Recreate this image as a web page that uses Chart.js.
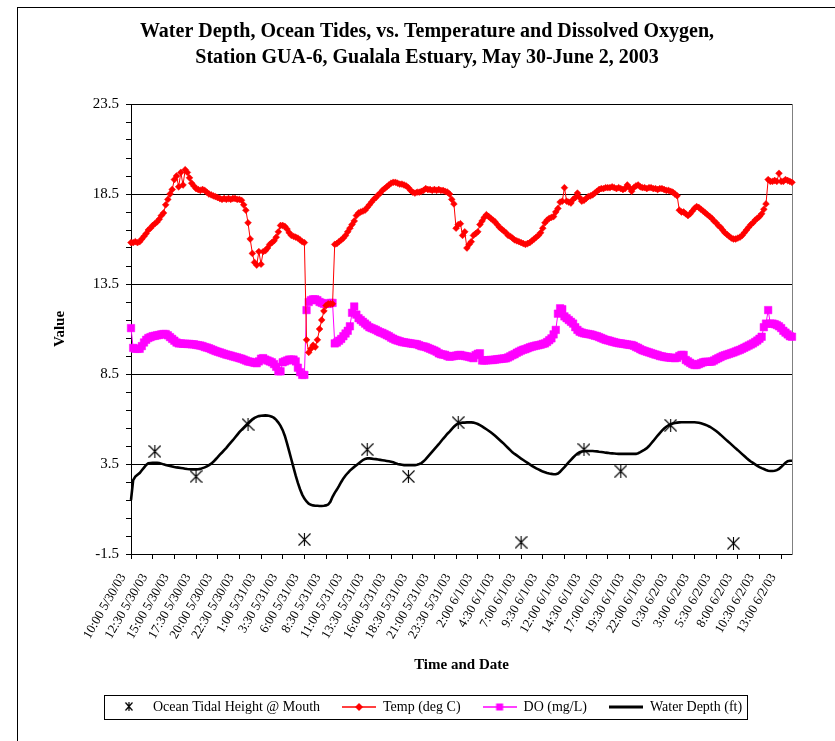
<!DOCTYPE html>
<html><head><meta charset="utf-8">
<script src="https://cdn.jsdelivr.net/npm/chart.js@4.4.1/dist/chart.umd.min.js"></script>
<style>html,body{margin:0;padding:0;background:#fff}#wrap{width:835px;height:741px}</style>
</head><body><div id="wrap"><canvas id="c" width="835" height="741"></canvas></div>
<script>
// ---- data (15-minute readings, index 0 = 10:00 5/30/03) ----
const xTickIndex = [0,10,20,30,40,50,60,70,80,90,100,110,120,130,140,150,160,170,180,190,200,210,220,230,240,250,260,270,280,290,300];
const xTickLabels = ['10:00 5/30/03','12:30 5/30/03','15:00 5/30/03','17:30 5/30/03','20:00 5/30/03','22:30 5/30/03','1:00 5/31/03','3:30 5/31/03','6:00 5/31/03','8:30 5/31/03','11:00 5/31/03','13:30 5/31/03','16:00 5/31/03','18:30 5/31/03','21:00 5/31/03','23:30 5/31/03','2:00 6/1/03','4:30 6/1/03','7:00 6/1/03','9:30 6/1/03','12:00 6/1/03','14:30 6/1/03','17:00 6/1/03','19:30 6/1/03','22:00 6/1/03','0:30 6/2/03','3:00 6/2/03','5:30 6/2/03','8:00 6/2/03','10:30 6/2/03','13:00 6/2/03'];

const tideIndex = [11,30,54,80,109,128,151,180,209,226,249,278];
const tideHeight = [4.2,2.8,5.7,-0.7,4.3,2.8,5.8,-0.85,4.3,3.1,5.65,-0.9];

const temp = [
15.8,15.8,15.85,15.8,15.85,16.0,16.15,16.3,16.5,16.6,
16.75,16.85,16.95,17.1,17.3,17.45,17.9,18.2,18.5,18.75,
19.3,19.5,18.9,19.7,19.0,19.85,19.7,19.4,19.1,18.95,
18.8,18.75,18.7,18.75,18.7,18.6,18.5,18.45,18.4,18.35,
18.3,18.25,18.2,18.25,18.2,18.25,18.2,18.25,18.25,18.2,
18.2,18.15,17.9,17.6,16.9,16.0,15.2,14.7,14.55,15.3,
14.6,15.3,15.35,15.5,15.7,15.8,15.9,16.1,16.4,16.75,
16.75,16.7,16.55,16.35,16.2,16.15,16.1,16.05,15.95,15.85,
15.8,10.4,9.7,9.9,10.1,10.0,10.4,11.0,11.5,12.0,
12.3,12.4,12.4,12.4,15.7,15.75,15.85,15.95,16.05,16.2,
16.4,16.6,16.8,17.0,17.3,17.45,17.5,17.55,17.6,17.75,
17.9,18.05,18.2,18.3,18.45,18.55,18.7,18.8,18.9,19.0,
19.1,19.15,19.15,19.1,19.05,19.05,19.0,18.95,18.85,18.7,
18.6,18.55,18.6,18.6,18.65,18.7,18.8,18.75,18.75,18.7,
18.75,18.7,18.75,18.7,18.7,18.65,18.6,18.5,18.2,17.95,
16.6,16.8,16.85,16.2,16.4,15.5,15.7,15.85,16.2,16.3,
16.4,16.8,17.0,17.2,17.35,17.25,17.15,17.05,16.95,16.8,
16.65,16.55,16.45,16.35,16.2,16.15,16.05,15.95,15.9,15.85,
15.8,15.75,15.7,15.75,15.8,15.9,16.0,16.1,16.2,16.35,
16.6,16.9,17.05,17.15,17.2,17.25,17.5,17.7,18.05,18.1,
18.85,18.1,18.05,18.0,18.2,18.3,18.55,18.3,18.1,18.15,
18.25,18.35,18.4,18.45,18.55,18.65,18.75,18.8,18.8,18.85,
18.85,18.85,18.9,18.85,18.8,18.85,18.8,18.75,18.8,19.0,
18.85,18.65,18.85,18.95,19.0,18.9,18.85,18.85,18.8,18.85,
18.85,18.8,18.8,18.75,18.8,18.8,18.75,18.7,18.7,18.65,
18.6,18.5,18.4,17.6,17.5,17.5,17.4,17.3,17.4,17.55,
17.7,17.8,17.75,17.65,17.55,17.45,17.35,17.25,17.15,17.0,
16.9,16.75,16.65,16.5,16.35,16.25,16.15,16.05,16.0,16.0,
16.05,16.1,16.2,16.35,16.5,16.65,16.8,16.9,17.05,17.15,
17.25,17.4,17.65,17.95,19.3,19.2,19.2,19.25,19.2,19.65,
19.2,19.2,19.3,19.25,19.2,19.15];

const dissolvedOxygen = [
11.05,9.95,9.9,9.9,9.9,10.05,10.25,10.4,10.5,10.55,
10.6,10.62,10.65,10.67,10.7,10.72,10.72,10.65,10.55,10.45,
10.35,10.25,10.2,10.2,10.18,10.18,10.17,10.17,10.15,10.15,
10.12,10.1,10.08,10.05,10.0,9.97,9.93,9.88,9.83,9.78,
9.74,9.7,9.66,9.62,9.58,9.55,9.52,9.48,9.45,9.42,
9.38,9.35,9.3,9.25,9.2,9.18,9.15,9.12,9.1,9.2,
9.35,9.38,9.3,9.25,9.2,9.15,9.05,8.9,8.65,8.65,
9.15,9.2,9.25,9.3,9.3,9.3,9.2,8.85,8.6,8.45,
8.45,12.05,12.5,12.6,12.65,12.65,12.6,12.5,12.45,12.4,
12.4,12.4,12.45,12.45,10.2,10.25,10.35,10.45,10.6,10.75,
10.9,11.15,11.9,12.25,11.8,11.6,11.5,11.4,11.3,11.2,
11.1,11.05,11.0,10.95,10.88,10.82,10.78,10.72,10.66,10.6,
10.52,10.46,10.4,10.36,10.32,10.28,10.26,10.24,10.22,10.2,
10.18,10.17,10.15,10.1,10.05,10.03,10.0,9.95,9.9,9.85,
9.8,9.74,9.65,9.6,9.58,9.56,9.5,9.46,9.48,9.5,
9.52,9.55,9.56,9.52,9.5,9.48,9.45,9.42,9.38,9.55,
9.62,9.65,9.25,9.25,9.26,9.27,9.28,9.28,9.3,9.32,
9.33,9.35,9.36,9.37,9.42,9.48,9.55,9.6,9.68,9.74,
9.8,9.85,9.88,9.93,9.98,10.02,10.05,10.08,10.1,10.13,
10.17,10.2,10.28,10.38,10.48,10.7,10.95,11.85,12.15,12.1,
11.7,11.6,11.5,11.4,11.3,11.1,10.95,10.85,10.8,10.76,
10.74,10.72,10.7,10.67,10.63,10.6,10.55,10.5,10.45,10.4,
10.37,10.34,10.3,10.27,10.24,10.21,10.2,10.18,10.16,10.14,
10.12,10.11,10.07,10.0,9.95,9.88,9.82,9.78,9.74,9.7,
9.66,9.62,9.58,9.55,9.5,9.48,9.45,9.43,9.42,9.4,
9.4,9.38,9.4,9.5,9.56,9.56,9.28,9.2,9.12,9.05,
9.0,9.0,9.05,9.1,9.15,9.18,9.18,9.18,9.19,9.25,
9.32,9.38,9.44,9.5,9.54,9.58,9.62,9.66,9.7,9.75,
9.8,9.84,9.9,9.96,10.02,10.08,10.14,10.2,10.28,10.36,
10.46,10.57,11.1,11.3,12.05,11.3,11.3,11.27,11.22,11.15,
11.05,10.9,10.8,10.7,10.6,10.57];

const waterDepth = [
1.5,2.6,2.8,2.9,3.0,3.15,3.3,3.45,3.54,3.56,
3.57,3.57,3.57,3.55,3.52,3.48,3.45,3.42,3.39,3.36,
3.33,3.31,3.3,3.28,3.26,3.24,3.22,3.21,3.2,3.2,
3.2,3.21,3.23,3.27,3.31,3.37,3.44,3.52,3.62,3.75,
3.88,4.02,4.14,4.27,4.4,4.55,4.69,4.82,4.97,5.12,
5.27,5.4,5.52,5.64,5.76,5.88,5.98,6.06,6.12,6.16,
6.18,6.19,6.2,6.19,6.17,6.13,6.06,5.95,5.8,5.62,
5.38,5.06,4.65,4.2,3.75,3.3,2.85,2.45,2.1,1.8,
1.58,1.42,1.3,1.23,1.2,1.18,1.18,1.17,1.17,1.18,
1.2,1.25,1.4,1.68,1.9,2.08,2.28,2.5,2.7,2.86,
3.0,3.13,3.24,3.34,3.43,3.53,3.63,3.72,3.78,3.81,
3.81,3.8,3.78,3.77,3.75,3.73,3.71,3.69,3.67,3.65,
3.63,3.6,3.55,3.5,3.48,3.46,3.44,3.44,3.44,3.44,
3.44,3.44,3.46,3.5,3.55,3.65,3.77,3.91,4.05,4.19,
4.33,4.46,4.6,4.75,4.9,5.04,5.18,5.3,5.44,5.57,
5.68,5.75,5.78,5.8,5.8,5.81,5.81,5.81,5.8,5.77,
5.72,5.66,5.59,5.51,5.43,5.35,5.26,5.17,5.07,4.96,
4.85,4.74,4.63,4.51,4.39,4.27,4.15,4.06,3.98,3.89,
3.8,3.72,3.64,3.56,3.48,3.4,3.33,3.26,3.2,3.14,
3.08,3.04,3.0,2.97,2.95,2.93,2.93,2.97,3.07,3.2,
3.33,3.47,3.6,3.73,3.86,3.98,4.08,4.15,4.19,4.21,
4.22,4.22,4.22,4.22,4.21,4.2,4.18,4.17,4.15,4.13,
4.12,4.1,4.09,4.08,4.07,4.06,4.06,4.06,4.06,4.06,
4.06,4.06,4.06,4.06,4.1,4.16,4.23,4.3,4.38,4.5,
4.64,4.78,4.93,5.08,5.22,5.35,5.47,5.57,5.65,5.71,
5.75,5.78,5.8,5.81,5.82,5.82,5.82,5.82,5.82,5.82,
5.82,5.81,5.79,5.76,5.72,5.68,5.63,5.57,5.5,5.42,
5.33,5.23,5.13,5.02,4.91,4.8,4.7,4.59,4.48,4.37,
4.27,4.16,4.05,3.94,3.83,3.73,3.64,3.56,3.48,3.4,
3.33,3.27,3.22,3.17,3.13,3.11,3.11,3.12,3.16,3.23,
3.33,3.45,3.57,3.66,3.68,3.68];

const seriesNames = ['Ocean Tidal Height @ Mouth','Temp (deg C)','DO (mg/L)','Water Depth (ft)'];

// ---- marker / legend icons ----
function asterisk(w, h, lw) {
  const c = document.createElement('canvas'); c.width = w; c.height = h;
  const g = c.getContext('2d'); g.strokeStyle = '#000'; g.lineWidth = lw;
  g.beginPath();
  g.moveTo(0.5, 0.5); g.lineTo(w - 0.5, h - 0.5);
  g.moveTo(w - 0.5, 0.5); g.lineTo(0.5, h - 0.5);
  g.moveTo(w / 2, 0); g.lineTo(w / 2, h);
  g.stroke(); return c;
}
function swatch(color, lw, marker) {
  const c = document.createElement('canvas'); c.width = 34; c.height = 14;
  const g = c.getContext('2d');
  g.strokeStyle = color; g.fillStyle = color; g.lineWidth = lw;
  g.beginPath(); g.moveTo(0, 7); g.lineTo(34, 7); g.stroke();
  if (marker === 'diamond') { g.beginPath(); g.moveTo(17, 3); g.lineTo(21, 7); g.lineTo(17, 11); g.lineTo(13, 7); g.closePath(); g.fill(); }
  if (marker === 'square') { g.fillRect(13.5, 3.5, 7, 7); }
  return c;
}
const tideMarker = asterisk(13, 13, 1.1);
const legendIcons = [
  (() => { const c = document.createElement('canvas'); c.width = 34; c.height = 14; c.getContext('2d').drawImage(asterisk(8, 9, 1.2), 13, 2); return c; })(),
  swatch('#FF0000', 1.5, 'diamond'),
  swatch('#FF00FF', 1.5, 'square'),
  swatch('#000000', 3, null)
];

const pts = arr => arr.map((v, i) => ({x: i, y: v}));
const SERIF = "'Liberation Serif','Times New Roman',serif";

const framePlugin = {
  id: 'frames',
  beforeDraw(chart) {
    const ctx = chart.ctx; ctx.save();
    ctx.fillStyle = '#fff'; ctx.fillRect(0, 0, chart.width, chart.height);
    ctx.strokeStyle = '#000'; ctx.lineWidth = 1;
    ctx.strokeRect(17.5, 7.5, 840, 760);
    ctx.restore();
  },
  afterDraw(chart) {
    const hb = chart.legend && chart.legend.legendHitBoxes;
    if (!hb || !hb.length) return;
    const ctx = chart.ctx; ctx.save();
    const first = hb[0], last = hb[hb.length - 1];
    const cy = first.top + first.height / 2;
    const l = Math.round(first.left - 8), r = Math.round(last.left + last.width + 5);
    ctx.strokeStyle = '#000'; ctx.lineWidth = 1;
    ctx.strokeRect(l + 0.5, Math.round(cy - 12) + 0.5, r - l, 24);
    ctx.restore();
  }
};

new Chart(document.getElementById('c'), {
  type: 'line',
  data: {
    datasets: [
      { label: seriesNames[0], data: tideIndex.map((x, k) => ({x, y: tideHeight[k]})), showLine: false,
        pointStyle: tideMarker, pointRadius: 6, borderColor: '#000', backgroundColor: '#000', clip: false },
      { label: seriesNames[1], data: pts(temp), borderColor: '#FF0000', backgroundColor: '#FF0000', borderWidth: 1,
        pointStyle: 'rectRot', pointRadius: 3.4, pointBorderWidth: 0.5, tension: 0, clip: false },
      { label: seriesNames[2], data: pts(dissolvedOxygen), borderColor: '#FF00FF', backgroundColor: '#FF00FF', borderWidth: 1,
        pointStyle: 'rect', pointRadius: 5.3, pointBorderWidth: 0.5, tension: 0, clip: false },
      { label: seriesNames[3], data: pts(waterDepth), borderColor: '#000', backgroundColor: '#000', borderWidth: 2.6,
        pointRadius: 0, tension: 0, clip: false }
    ]
  },
  options: {
    responsive: false, animation: false, devicePixelRatio: 1,
    layout: { padding: { left: 20, right: 1, top: 0, bottom: 17 } },
    plugins: {
      tooltip: { enabled: false },
      title: {
        display: true,
        text: ['Water Depth, Ocean Tides, vs. Temperature and Dissolved Oxygen,', 'Station GUA-6, Gualala Estuary, May 30-June 2, 2003'],
        color: '#000', font: { family: SERIF, size: 20, weight: 'bold', lineHeight: '26px' },
        padding: { top: 19, bottom: 33 }
      },
      legend: {
        position: 'bottom',
        labels: {
          usePointStyle: true, pointStyleWidth: 34, padding: 22, color: '#000',
          font: { family: SERIF, size: 14 },
          generateLabels(chart) {
            const items = Chart.defaults.plugins.legend.labels.generateLabels(chart);
            items.sort((a, b) => a.datasetIndex - b.datasetIndex);
            items.forEach(it => { it.pointStyle = legendIcons[it.datasetIndex]; it.fontColor = '#000'; });
            return items;
          }
        }
      }
    },
    scales: {
      x: {
        type: 'linear', min: 0, max: 305,
        afterBuildTicks(scale) { scale.ticks = xTickIndex.map(v => ({value: v})); },
        afterFit(scale) { scale.height = 124; },
        ticks: {
          autoSkip: false, minRotation: 60, maxRotation: 60, padding: 12, labelOffset: -8, color: '#000',
          font: { family: SERIF, size: 13 },
          callback(value) { const k = xTickIndex.indexOf(value); return k >= 0 ? xTickLabels[k] : ''; }
        },
        grid: { drawOnChartArea: false, drawTicks: true, tickLength: 5, color: '#000', tickColor: '#000' },
        border: { color: '#000', width: 1 },
        title: { display: true, text: 'Time and Date', color: '#000', font: { family: SERIF, size: 15, weight: 'bold' }, padding: { top: 4, bottom: 4 } }
      },
      y: {
        min: -1.5, max: 23.5,
        afterFit(scale) { scale.width = 111; },
        ticks: {
          autoSkip: false, stepSize: 1, padding: 7, color: '#000', font: { family: SERIF, size: 15 },
          callback(v) { return Math.round((v + 1.5) * 10) % 50 === 0 ? v.toFixed(1) : ''; }
        },
        grid: {
          tickLength: 5, tickColor: '#000', lineWidth: 1,
          color(ctx) { const v = ctx.tick ? ctx.tick.value : 0; return Math.round((v + 1.5) * 10) % 50 === 0 ? '#000' : 'rgba(0,0,0,0)'; }
        },
        border: { color: '#000', width: 1 },
        title: { display: true, text: 'Value', color: '#000', font: { family: SERIF, size: 15, weight: 'bold' }, padding: { top: 31, bottom: 0 } }
      },
      y2: {
        position: 'right', min: 0, max: 1,
        afterFit(scale) { scale.width = 42; },
        ticks: { display: false },
        grid: { drawOnChartArea: false, drawTicks: false },
        border: { color: '#808080', width: 1 }
      }
    }
  },
  plugins: [framePlugin]
});
</script>
</body></html>
